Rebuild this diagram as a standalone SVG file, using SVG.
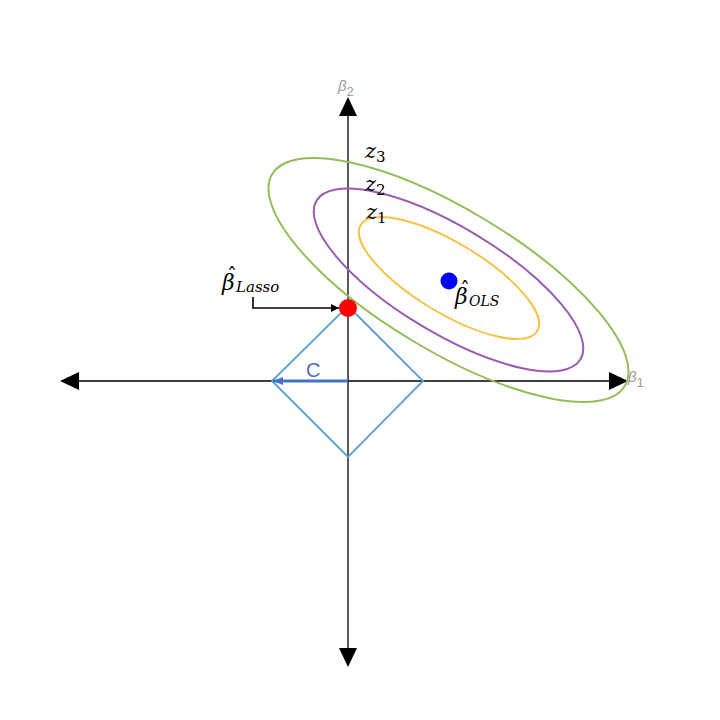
<svg xmlns="http://www.w3.org/2000/svg" width="720" height="720" viewBox="0 0 720 720">
<defs>
<style>
.axis{stroke:#000;stroke-width:1.3;fill:none}
.ell{fill:none;stroke-width:2}
.math{font-family:"DejaVu Serif","Liberation Serif",serif;font-style:italic;fill:#000}
.hat{font-style:normal}
.axlbl{font-family:"Liberation Sans","DejaVu Sans",sans-serif;fill:#9a9a9a}
</style>
<marker id="tri" viewBox="0 0 10 10" refX="10" refY="5" markerWidth="8" markerHeight="8" orient="auto" markerUnits="userSpaceOnUse">
<path d="M0,0 L10,5 L0,10 z" fill="#000"/>
</marker>
<marker id="blu" viewBox="0 0 10 10" refX="10" refY="5" markerWidth="10" markerHeight="10" orient="auto" markerUnits="userSpaceOnUse">
<path d="M0,1 L10,5 L0,9 z" fill="#4472C4"/>
</marker>
</defs>
<rect width="720" height="720" fill="#fff"/>
<g id="connectors">
<line class="axis" x1="348" y1="114" x2="348" y2="650"/>
<line class="axis" x1="77" y1="381" x2="611" y2="381"/>
<path d="M348,97 L357,116 L339,116 z" fill="#000"/>
<path d="M348,667 L357,648 L339,648 z" fill="#000"/>
<path d="M60,381 L79,372 L79,390 z" fill="#000"/>
<path d="M628,381 L609,372 L609,390 z" fill="#000"/>
<path d="M253,297 L253,308 L339,308" fill="none" stroke="#000" stroke-width="1.6" marker-end="url(#tri)"/>
</g>
<g id="contours">
<ellipse id="z3" class="ell" cx="448.5" cy="280" rx="205.7" ry="70.6" transform="rotate(31 448.5 280)" stroke="#93BE57"/>
<ellipse id="z2" class="ell" cx="448.5" cy="280" rx="154" ry="53" transform="rotate(31 448.5 280)" stroke="#9B5BB0"/>
<ellipse id="z1" class="ell" cx="449" cy="278" rx="103" ry="35" transform="rotate(31 449 278)" stroke="#F7C146"/>
</g>
<g id="constraint">
<path d="M348,306 L423,381 L348,457 L272,381 z" fill="none" stroke="#5AA0D4" stroke-width="1.8"/>
<line x1="348" y1="381" x2="273" y2="381" stroke="#4472C4" stroke-width="3" marker-end="url(#blu)"/>
<text x="306" y="377" font-family="Liberation Sans, DejaVu Sans, sans-serif" font-size="20" fill="#4472C4">C</text>
</g>
<g id="lasso">
<circle cx="348" cy="308" r="9" fill="#FF0000"/>
<text class="math" font-size="22"><tspan x="222" y="290">β</tspan><tspan class="hat" x="227" y="283" font-size="20">ˆ</tspan><tspan x="236" y="292" font-size="15">Lasso</tspan></text>
</g>
<g id="ols">
<circle cx="449" cy="281" r="8.5" fill="#0000FF"/>
<text class="math" font-size="22"><tspan x="455" y="304">β</tspan><tspan class="hat" x="460" y="297" font-size="20">ˆ</tspan><tspan x="469" y="306" font-size="14">OLS</tspan></text>
</g>
<g id="labels">
<text class="math" x="365" y="158" font-size="21">z<tspan font-style="normal" font-size="15" dy="4">3</tspan></text>
<text class="math" x="365" y="191" font-size="21">z<tspan font-style="normal" font-size="15" dy="4">2</tspan></text>
<text class="math" x="366" y="219" font-size="21">z<tspan font-style="normal" font-size="15" dy="4">1</tspan></text>
<text class="axlbl" x="338" y="91" font-size="15" font-style="italic">β<tspan font-style="normal" font-size="13" dy="5">2</tspan></text>
<text class="axlbl" x="628" y="382" font-size="15" font-style="italic">β<tspan font-style="normal" font-size="13" dy="5">1</tspan></text>
</g>
</svg>
